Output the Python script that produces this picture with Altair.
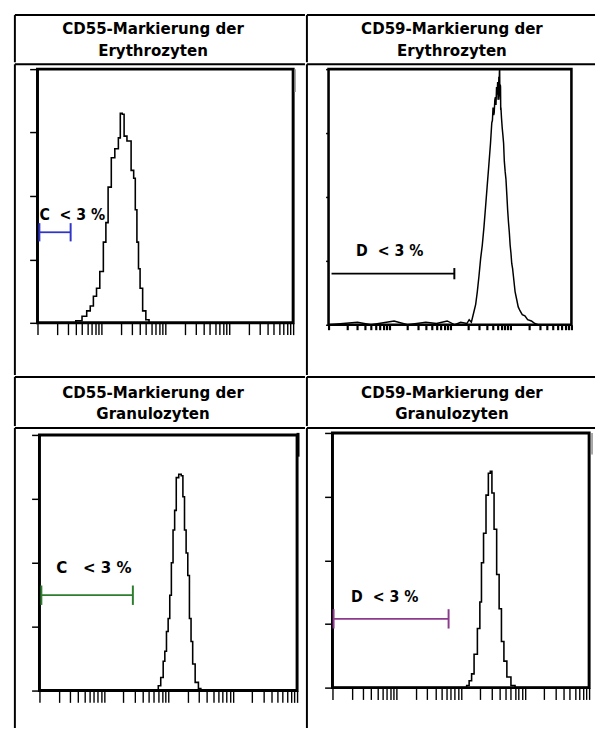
import altair as alt
import pandas as pd

FONT = "DejaVu Sans Condensed, DejaVu Sans, sans-serif"

# ---------------- data ----------------
header_line1 = ["CD55-Markierung der", "CD59-Markierung der",
                "CD55-Markierung der", "CD59-Markierung der"]
header_line2 = ["Erythrozyten", "Erythrozyten", "Granulozyten", "Granulozyten"]

# panel 1: CD55 erythrocytes (fluorescence intensity, relative count)
p1_x = [1, 3.5, 4.5, 5.5, 6.3, 7.1, 7.9, 8.9, 10, 11.5, 12, 13.5, 15.1, 17.4, 19.5, 20,
        22.4, 22.9, 27.5, 30.9, 33.1, 34.7, 37.2, 38.9, 41.7, 46.8, 52.5, 58.9, 10000]
p1_y = [0, 0, 0.8, 2.6, 4.7, 6.6, 10.5, 13.6, 20.2, 31.8, 39.5, 53.5, 65.1, 68.6, 72.9, 82.6,
        82.2, 73.6, 71.7, 60.1, 57.0, 44.6, 31.8, 21.3, 13.6, 4.7, 1.2, 0, 0]

# panel 2: CD59 erythrocytes
p2_x = [1, 3, 5, 12, 20, 40, 60, 90, 120, 150, 190, 207, 225, 249, 265, 282, 300, 320, 340,
        362, 385, 409, 435, 465, 488, 500, 512, 525, 535, 548, 560, 572, 585, 598, 610, 620,
        630, 638, 645, 652, 658, 663, 668, 674, 680, 685, 690, 705, 725, 745, 764, 785, 810,
        835, 863, 890, 920, 950, 980, 1010, 1040, 1075, 1109, 1180, 1253, 1330, 1422, 1550,
        1714, 1900, 2193, 2500, 2812, 10000]
p2_y = [0, 1, 0, 1.5, 0, 1, 0.5, 1.5, 0, 1, 0.5, 2, 1, 5.3, 8, 13, 19, 26, 31,
        38, 46, 54, 62, 71, 79, 80, 85, 82, 83, 88, 89, 86, 93, 90, 95, 88,
        90, 97, 92, 99, 100, 90, 88, 94, 93, 84, 85, 81, 77, 74, 71, 64, 60,
        57, 51, 45, 40, 36, 31, 28, 24, 22, 19, 13, 10, 7, 5.5, 4,
        3.5, 2, 1.5, 0.5, 0, 0]

# panel 3: CD55 granulocytes
p3_x = [1, 67.9, 72.1, 80.9, 85.9, 91, 96.6, 102.6, 108.4, 115.1, 122.2, 129.1, 137.1, 154.2,
        163.7, 173.8, 183.7, 195, 207, 219.3, 232.3, 246.6, 277.3, 311.2, 330, 10000]
p3_y = [0, 0, 1.9, 5.1, 11.5, 15.4, 23.1, 28.2, 37.3, 50, 62.8, 70.5, 83.3, 84.6,
        84, 75.8, 62.8, 53.8, 45, 28.2, 19.2, 10.4, 3.2, 0.8, 0, 0]

# panel 4: CD59 granulocytes
p4_x = [1, 120, 127, 143.2, 151.7, 171, 192.3, 204.2, 215.8, 237.1, 257.6, 280.5, 296.5,
        314.8, 345.9, 379.3, 413, 447.7, 493.2, 553.4, 660.7, 743, 10000]
p4_y = [0, 0, 0.8, 2.7, 5.4, 13.1, 23.2, 33.6, 49.0, 60.6, 75.6, 84.2, 84.9,
        76.4, 62.2, 44.4, 31.0, 18.1, 10.4, 4.2, 0.8, 0, 0]

# gates: start, end, level, caps, label, label position, colour
gate_start = [1.07, 1.12, 1.07, 1.04]
gate_end = [3.3, 118, 28.2, 64.5]
gate_level = [35.7, 20, 37.3, 27]
gate_caps = [[1.07, 3.3], [118], [1.07, 28.2], [1.04, 64.5]]
gate_cap_half = [3.6, 2.2, 3.8, 3.8]
gate_label = ["C\u00a0 < 3 %", "D\u00a0 < 3 %", "C\u00a0\u00a0 < 3 %", "D\u00a0 < 3 %"]
label_x = [1.07, 2.84, 1.82, 1.95]
label_y = [42.6, 28.8, 48, 35.5]
gate_color = ["#2f35c8", "#000000", "#2e7d2e", "#8c3a8c"]

# small instrument artefacts at the upper right corner of the plot frames
edge_x = [10700, None, 10350, 11100]
edge_y = [(100, 91), None, (100.8, 91.5), (100, 91.5)]
edge_color = ["#8a8a8a", None, "#000000", "#8a8a8a"]

x_ticks = [k * 10 ** j for j in range(4) for k in range(1, 10)] + [10000]
y_ticks = [0, 25, 50, 75, 100]

# ---------------- layout ----------------
COL_W = [295, 293]
HEAD_H = [48, 50]
PLOT_H = [316, 305]
HEAD_LINE0 = [14.5, 16.5]   # px from top of header cell to first line
LINE_GAP = 21.8
HEAD_DX = [-7, 1]
# frame (left, right, top, bottom) inside each cell, px
FRAMES = [(23, 283, 5, 263), (22, 269, 5, 265), (25, 287, 7, 267), (26, 287, 5, 264)]
HIST_W = [1.6, 1.5, 1.6, 1.6]
XT = [(12, 1.4), (5, 2.2), (12, 1.4), (12, 1.4)]
YT = [8, 3, 8, 8]
LABEL_FS = [16, 16, 17, 16]
ONE = pd.DataFrame({"k": [0]})


def header(i, col, row):
    w, h = COL_W[col], HEAD_H[row]
    df = pd.DataFrame({"line": [0, 1], "t": [header_line1[i], header_line2[i]]})
    lo = -HEAD_LINE0[row] / LINE_GAP
    hi = lo + h / LINE_GAP
    xs = alt.Scale(domain=[0, 1], nice=False, zero=False)
    ys = alt.Scale(domain=[lo, hi], reverse=True, nice=False, zero=False)
    txt = alt.Chart(df).mark_text(
        font=FONT, fontSize=17, fontWeight="bold", baseline="middle",
        dx=HEAD_DX[col], color="black",
    ).encode(
        x=alt.X(datum=0.5, type="quantitative", scale=xs, axis=None),
        y=alt.Y("line:Q", scale=ys, axis=None),
        text="t:N",
    )
    top = alt.Chart(ONE).mark_rule(color="black", strokeWidth=2).encode(
        y=alt.Y(datum=lo, type="quantitative", scale=ys, axis=None))
    side = alt.Chart(ONE).mark_rule(color="black", strokeWidth=2).encode(
        x=alt.X(datum=0, type="quantitative", scale=xs, axis=None))
    return alt.layer(top, side, txt).properties(width=w, height=h)


def panel(i, col, row, hx, hy):
    w, h = COL_W[col], PLOT_H[row]
    left, right, top, bottom = FRAMES[i]
    ppd = (right - left) / 4.0
    x_lo = 10 ** (-left / ppd)
    x_hi = 10 ** (4 + (w - right) / ppd)
    ppu = (bottom - top) / 100.0
    y_lo = -(h - bottom) / ppu
    y_hi = 100 + top / ppu
    xs = alt.Scale(type="log", domain=[x_lo, x_hi], nice=False)
    ys = alt.Scale(domain=[y_lo, y_hi], nice=False, zero=False)
    xa = alt.Axis(values=x_ticks, labels=False, domain=False, grid=False, orient="bottom",
                  offset=-(h - bottom), tickSize=XT[i][0], tickWidth=XT[i][1],
                  tickColor="black", title=None)
    ya = alt.Axis(values=y_ticks, labels=False, domain=False, grid=False, orient="left",
                  offset=-left, tickSize=YT[i], tickWidth=1.5, tickColor="black", title=None)

    def X(f):
        return alt.X(f, type="quantitative", scale=xs, axis=xa)

    def Y(f):
        return alt.Y(f, type="quantitative", scale=ys, axis=ya)

    # table cell lines (top and left edge of the cell)
    cell_top = alt.Chart(ONE).mark_rule(color="black", strokeWidth=2).encode(
        y=alt.Y(datum=y_hi, type="quantitative", scale=ys, axis=ya))
    cell_left = alt.Chart(ONE).mark_rule(color="black", strokeWidth=2).encode(
        x=alt.X(datum=x_lo, type="quantitative", scale=xs, axis=xa))

    frame_df = pd.DataFrame({"x": [1], "x2": [10000], "y": [0], "y2": [100]})
    frame = alt.Chart(frame_df).mark_rect(
        filled=False, stroke="black", strokeWidth=3 if i != 1 else 2.6
    ).encode(x=X("x"), x2="x2", y=Y("y"), y2="y2")

    hist_df = pd.DataFrame({"x": hx, "y": hy})
    hist = alt.Chart(hist_df).mark_line(
        color="black", strokeWidth=HIST_W[i],
        interpolate="step" if i != 1 else "linear",
    ).encode(x=X("x"), y=Y("y"))

    g_df = pd.DataFrame({"x": [gate_start[i]], "x2": [gate_end[i]], "y": [gate_level[i]]})
    gate = alt.Chart(g_df).mark_rule(color=gate_color[i], strokeWidth=1.8).encode(
        x=X("x"), x2="x2", y=Y("y"))

    c_df = pd.DataFrame({
        "x": gate_caps[i],
        "y": [gate_level[i] - gate_cap_half[i]] * len(gate_caps[i]),
        "y2": [gate_level[i] + gate_cap_half[i]] * len(gate_caps[i]),
    })
    caps = alt.Chart(c_df).mark_rule(color=gate_color[i], strokeWidth=2).encode(
        x=X("x"), y=Y("y"), y2="y2")

    t_df = pd.DataFrame({"x": [label_x[i]], "y": [label_y[i]], "t": [gate_label[i]]})
    label = alt.Chart(t_df).mark_text(
        font=FONT, fontSize=LABEL_FS[i], fontWeight="bold", align="left", baseline="middle",
        color="black",
    ).encode(x=X("x"), y=Y("y"), text="t:N")

    layers = [cell_top, cell_left, frame, hist, gate, caps, label]
    if edge_x[i] is not None:
        e_df = pd.DataFrame({"x": [edge_x[i]], "y": [edge_y[i][0]], "y2": [edge_y[i][1]]})
        layers.append(alt.Chart(e_df).mark_rule(
            color=edge_color[i], strokeWidth=3 if i == 2 else 1.5
        ).encode(x=X("x"), y=Y("y"), y2="y2"))

    return alt.layer(*layers).properties(width=w, height=h)


row1 = alt.hconcat(header(0, 0, 0), header(1, 1, 0), spacing=0)
row2 = alt.hconcat(panel(0, 0, 0, p1_x, p1_y), panel(1, 1, 0, p2_x, p2_y), spacing=0)
row3 = alt.hconcat(header(2, 0, 1), header(3, 1, 1), spacing=0)
row4 = alt.hconcat(panel(2, 0, 1, p3_x, p3_y), panel(3, 1, 1, p4_x, p4_y), spacing=0)

chart = alt.vconcat(row1, row2, row3, row4, spacing=0).properties(
    padding={"left": 6, "top": 0, "right": 0, "bottom": 0},
    background="white",
).configure_view(stroke="transparent", strokeWidth=0).configure_concat(spacing=0)

chart.save("out.html", embed_options={"renderer": "svg", "actions": False})
